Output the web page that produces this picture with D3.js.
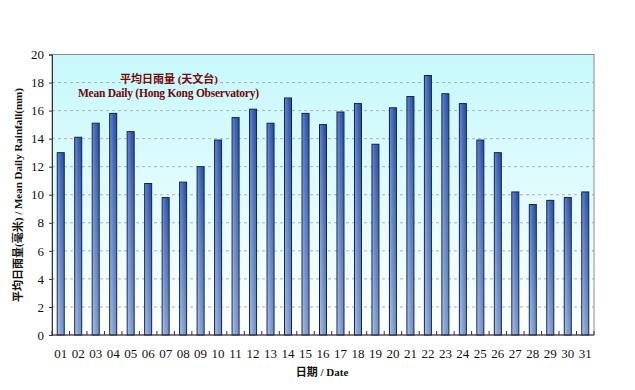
<!DOCTYPE html>
<html><head><meta charset="utf-8">
<script src="https://cdn.jsdelivr.net/npm/d3@7"></script>
<style>body{margin:0;background:#fff}</style>
</head><body>
<svg id="c" width="635" height="390"></svg>
<script>
const dates = ["01","02","03","04","05","06","07","08","09","10","11","12","13","14","15","16","17","18","19","20","21","22","23","24","25","26","27","28","29","30","31"];
const rainfall = [13.0,14.1,15.1,15.8,14.5,10.8,9.8,10.9,12.0,13.9,15.5,16.1,15.1,16.9,15.8,15.0,15.9,16.5,13.6,16.2,17.0,18.5,17.2,16.5,13.9,13.0,10.2,9.3,9.6,9.8,10.2];
const yTicks = [0,2,4,6,8,10,12,14,16,18,20];
const titleZh = "平均日雨量 (天文台)";
const titleEn = "Mean Daily (Hong Kong Observatory)";
const yTitle = "平均日雨量(毫米) / Mean Daily Rainfall(mm)";
const xTitle = "日期 / Date";

const svg = d3.select("#c");
const L = 52, R = 594, T = 54.5, B = 335;
const x = d3.scaleBand().domain(dates).range([L, R]).padding(0);
const y = d3.scaleLinear().domain([0, 20]).range([B, T]);

const defs = svg.append("defs");
const bg = defs.append("linearGradient").attr("id","bg").attr("x1",0).attr("y1",0).attr("x2",0).attr("y2",1);
bg.append("stop").attr("offset","0%").attr("stop-color","#c6f8fb");
bg.append("stop").attr("offset","100%").attr("stop-color","#ffffff");
const bar = defs.append("linearGradient").attr("id","bar").attr("x1",0).attr("y1",0).attr("x2",0).attr("y2",1);
bar.append("stop").attr("offset","0%").attr("stop-color","#2c5cbc");
bar.append("stop").attr("offset","100%").attr("stop-color","#8aaee2");
const barH = defs.append("linearGradient").attr("id","barh").attr("x1",0).attr("y1",0).attr("x2",1).attr("y2",0);
barH.append("stop").attr("offset","0%").attr("stop-color","#ffffff").attr("stop-opacity",0.25);
barH.append("stop").attr("offset","100%").attr("stop-color","#000033").attr("stop-opacity",0.15);

svg.append("rect").attr("x",L).attr("y",T).attr("width",R-L).attr("height",B-T).attr("fill","url(#bg)");

// grid
svg.append("g").selectAll("line").data(yTicks.filter(d=>d>0 && d<20)).join("line")
  .attr("x1",L).attr("x2",R).attr("y1",d=>y(d)).attr("y2",d=>y(d))
  .attr("stroke","#a8b4b8").attr("stroke-dasharray","3,3").attr("stroke-width",1);

// border
svg.append("rect").attr("x",L).attr("y",T).attr("width",R-L).attr("height",B-T)
  .attr("fill","none").attr("stroke","#8c8c8c").attr("stroke-width",1);

// bars
const bw = 7;
const bars = svg.append("g");
bars.selectAll("rect.b").data(rainfall).join("rect").attr("class","b")
  .attr("x",(d,i)=>x(dates[i])+x.bandwidth()/2-bw/2).attr("y",d=>y(d))
  .attr("width",bw).attr("height",d=>B-y(d))
  .attr("fill","url(#bar)").attr("stroke","#14204a").attr("stroke-width",1);
bars.selectAll("rect.h").data(rainfall).join("rect").attr("class","h")
  .attr("x",(d,i)=>x(dates[i])+x.bandwidth()/2-bw/2+0.5).attr("y",d=>y(d)+0.5)
  .attr("width",bw-1).attr("height",d=>B-y(d)-1)
  .attr("fill","url(#barh)");

// axes
const yAxis = d3.axisLeft(y).tickValues(yTicks).tickSize(3).tickPadding(5).tickFormat(d3.format("d"));
const gy = svg.append("g").attr("transform",`translate(${L},0)`).call(yAxis);
gy.select(".domain").attr("stroke","#333");
gy.selectAll(".tick line").attr("stroke","#333");
gy.selectAll("text").attr("font-family","Liberation Serif, serif").attr("font-size",13).attr("fill","#111");

const gx = svg.append("g").attr("transform",`translate(0,${B})`);
gx.append("line").attr("x1",L).attr("x2",R).attr("y1",0).attr("y2",0).attr("stroke","#333");
gx.selectAll("line.t").data(d3.range(dates.length+1)).join("line").attr("class","t")
  .attr("x1",i=>L+i*x.step()).attr("x2",i=>L+i*x.step()).attr("y1",-4).attr("y2",0).attr("stroke","#333");
gx.selectAll("text").data(dates).join("text")
  .attr("x",d=>x(d)+x.bandwidth()/2).attr("y",23).attr("text-anchor","middle")
  .attr("font-family","Liberation Serif, serif").attr("font-size",13).attr("fill","#111").text(d=>d);

// titles
svg.append("text").attr("x",169).attr("y",83).attr("text-anchor","middle")
  .attr("font-family","Liberation Serif, Noto Sans CJK TC, serif").attr("font-size",11).attr("font-weight","bold")
  .attr("fill","#7a0a0a").text(titleZh);
svg.append("text").attr("x",78).attr("y",97)
  .attr("textLength",181).attr("lengthAdjust","spacing")
  .attr("font-family","Liberation Serif, serif").attr("font-size",11.5).attr("font-weight","bold")
  .attr("fill","#6e0a0a").text(titleEn);

svg.append("text").attr("transform","translate(22,195) rotate(-90)").attr("text-anchor","middle")
  .attr("font-family","Liberation Serif, Noto Sans CJK TC, serif").attr("font-size",11).attr("font-weight","bold")
  .attr("fill","#111").text(yTitle);
svg.append("text").attr("x",322).attr("y",376).attr("text-anchor","middle")
  .attr("font-family","Liberation Serif, Noto Sans CJK TC, serif").attr("font-size",11).attr("font-weight","bold")
  .attr("fill","#111").text(xTitle);
</script>
</body></html>
